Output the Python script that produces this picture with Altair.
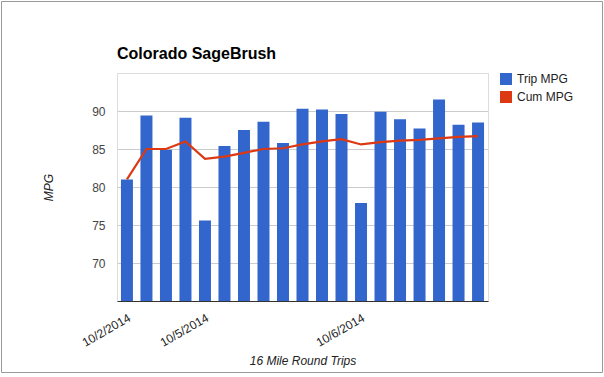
import altair as alt
import pandas as pd

# ---- data ----
trips = list(range(1, 20))
trip_labels = ["10/2/2014", "", "", "", "10/5/2014", "", "", "", "", "", "", "",
               "10/6/2014", "", "", "", "", "", ""]
trip_mpg = [81.0, 89.4, 84.9, 89.1, 75.6, 85.4, 87.5, 88.6, 85.8, 90.3,
            90.2, 89.6, 77.9, 89.9, 88.9, 87.7, 91.5, 88.2, 88.5]
cum_mpg = [81.0, 85.0, 85.0, 86.0, 83.7, 84.0, 84.5, 85.0, 85.1, 85.6,
           86.0, 86.3, 85.6, 85.9, 86.1, 86.2, 86.4, 86.6, 86.7]
series_names = ["Trip MPG", "Cum MPG"]
series_colors = ["#3366cc", "#dc3912"]
y_ticks = [70, 75, 80, 85, 90]
y_min, y_max = 65, 95

bars_df = pd.DataFrame({"trip": trips, "label": trip_labels, "mpg": trip_mpg,
                        "series": series_names[0]})
line_df = pd.DataFrame({"trip": trips, "label": trip_labels, "mpg": cum_mpg,
                        "series": series_names[1]})

label_map = "{" + ",".join(f"'{t}':'{l}'" for t, l in zip(trips, trip_labels)) + "}"

FONT = "Liberation Sans, Arial, sans-serif"

color_scale = alt.Scale(domain=series_names, range=series_colors)

x_enc = alt.X(
    "trip:O",
    scale=alt.Scale(paddingInner=0.38, paddingOuter=0.2),
    axis=alt.Axis(
        title="16 Mile Round Trips",
        labelExpr=f"{label_map}[datum.value]",
        labelAngle=-30, labelAlign="right", labelBaseline="top",
        labelPadding=11, labelFontSize=12, labelColor="#222222", labelFont=FONT,
        ticks=False, domainColor="#333333", domainWidth=1,
        titleFont=FONT, titleFontSize=12, titleFontStyle="italic",
        titleFontWeight="normal", titleColor="#222222",
        titleY=59, titleBaseline="middle", labelOverlap=False,
    ),
)

y_scale = alt.Scale(domain=[y_min, y_max], nice=False, zero=False)

bars = alt.Chart(bars_df).mark_bar(size=12).encode(
    x=x_enc,
    y=alt.Y(
        "mpg:Q",
        scale=y_scale,
        axis=alt.Axis(
            title="MPG", values=y_ticks, grid=True, gridColor="#cccccc",
            domain=False, ticks=False, labelPadding=12, labelFontSize=12,
            labelColor="#444444", labelFont=FONT,
            titleFont=FONT, titleFontSize=12, titleFontStyle="italic",
            titleFontWeight="normal", titleColor="#222222",
            titleX=-69, titleY=114, titleAngle=-90, titleAlign="center",
            titleBaseline="middle",
        ),
    ),
    y2=alt.datum(y_min),
    color=alt.Color(
        "series:N", scale=color_scale,
        legend=alt.Legend(
            title=None, orient="none", legendX=383, legendY=0, padding=0,
            symbolType="square", symbolSize=144, symbolStrokeWidth=0,
            labelFont=FONT, labelFontSize=12, labelColor="#222222",
            labelOffset=5, rowPadding=6,
        ),
    ),
)

line = alt.Chart(line_df).mark_line(strokeWidth=2.2).encode(
    x=alt.X("trip:O"),
    y=alt.Y("mpg:Q", scale=y_scale),
    color=alt.Color("series:N", scale=color_scale, legend=None),
)

border = alt.Chart(pd.DataFrame({"a": [0]})).mark_rect(
    fill=None, stroke="#999999", strokeWidth=1
).encode(
    x=alt.value(-115.5), x2=alt.value(485.5),
    y=alt.value(-71.5), y2=alt.value(299.5),
)

chart = alt.layer(bars, line, border).properties(
    width=371, height=228,
    title=alt.TitleParams(
        "Colorado SageBrush", anchor="start", frame="group", font=FONT,
        fontSize=16, fontWeight="bold", color="#000000",
        baseline="alphabetic", offset=0, dy=73.5,
    ),
    autosize=alt.AutoSizeParams(type="none"),
    padding={"left": 117, "top": 73, "right": 116, "bottom": 76},
).configure_view(stroke="transparent", strokeWidth=0).configure(background="#ffffff")

chart.save("out.html", embed_options={"renderer": "svg", "actions": False})
